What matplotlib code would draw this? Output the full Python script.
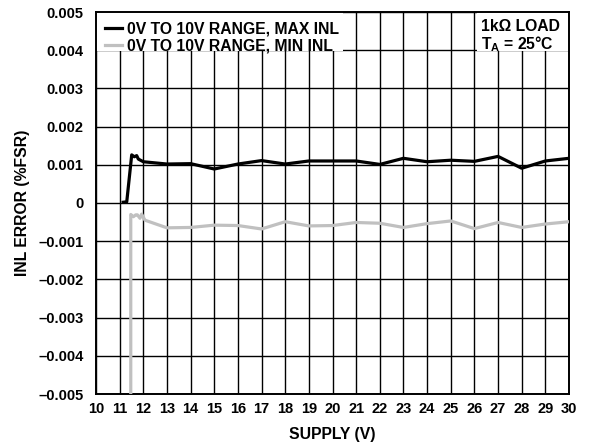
import matplotlib
matplotlib.use("Agg")
import matplotlib.pyplot as plt
from matplotlib.patches import Rectangle
from matplotlib.ticker import FixedLocator, FuncFormatter

plt.rcParams['font.family'] = ['Liberation Sans', 'DejaVu Sans']
plt.rcParams['font.weight'] = 'bold'
plt.rcParams['mathtext.fontset'] = 'custom'
plt.rcParams['mathtext.bf'] = 'Liberation Sans:bold'
plt.rcParams['mathtext.rm'] = 'Liberation Sans:bold'

# Data (supply voltage in V, INL error in %FSR)
max_v = [11.15, 11.30, 11.51, 11.62, 11.72, 11.79, 12.0, 13, 14, 15, 16, 17, 18, 19, 20, 21, 22, 23, 24, 25, 26, 27, 28, 29, 30]
max_inl = [0.00002, 0.00003, 0.00126, 0.00121, 0.00124, 0.00115, 0.00108, 0.00102, 0.00103, 0.00089, 0.00102, 0.00111,
           0.00102, 0.00110, 0.00110, 0.00110, 0.00101, 0.00117, 0.00108, 0.00112, 0.00109, 0.00122, 0.00091, 0.00110, 0.00117]

min_v = [11.47, 11.47, 11.58, 11.68, 11.75, 11.86, 11.93, 12.07, 13, 14, 15, 16, 17, 18, 19, 20, 21, 22, 23, 24, 25, 26, 27, 28, 29, 30]
min_inl = [-0.0055, -0.00030, -0.00036, -0.00031, -0.00031, -0.00040, -0.00029, -0.00045, -0.00065, -0.00064, -0.00058,
           -0.00059, -0.00068, -0.00049, -0.00060, -0.00059, -0.00051, -0.00053, -0.00064, -0.00054, -0.00047, -0.00067,
           -0.00051, -0.00064, -0.00055, -0.00049]

x_ticks = list(range(10, 31))
y_ticks = [-0.005, -0.004, -0.003, -0.002, -0.001, 0, 0.001, 0.002, 0.003, 0.004, 0.005]

FS = 10.5
FL = 11.3

fig = plt.figure(figsize=(5.9, 4.46), dpi=100)
ax = fig.add_axes([96/590, 52/446, 473/590, 382/446])

ax.plot(max_v, max_inl, color='black', lw=2.3, zorder=3, label='0V TO 10V RANGE, MAX INL')
ax.plot(min_v, min_inl, color='#c0c0c0', lw=2.3, zorder=3, label='0V TO 10V RANGE, MIN INL')

ax.set_xlim(10, 30)
ax.set_ylim(-0.005, 0.005)
ax.xaxis.set_major_locator(FixedLocator(x_ticks))
ax.yaxis.set_major_locator(FixedLocator(y_ticks))

def yfmt(v, pos):
    if abs(v) < 1e-12:
        return '0'
    s = f'{abs(v):.3f}'
    return ('\u2013' + s) if v < 0 else s

ax.yaxis.set_major_formatter(FuncFormatter(yfmt))
ax.tick_params(axis='y', length=0, labelsize=FS, pad=9)
ax.tick_params(axis='x', length=0, labelsize=FS, pad=6)
for lab in ax.get_xticklabels() + ax.get_yticklabels():
    lab.set_fontweight('bold')

ax.set_axisbelow(True)
ax.grid(True, color='black', lw=1.0)
for sp in ax.spines.values():
    sp.set_linewidth(1.4)

# White boxes behind legend and condition text
ax.add_patch(Rectangle((10, 0.00398), 10.46, 0.00102, facecolor='white', edgecolor='none', zorder=1))
ax.add_patch(Rectangle((26.09, 0.00398), 3.91, 0.00102, facecolor='white', edgecolor='none', zorder=1))

leg = ax.legend(loc='upper left', frameon=False, handlelength=1.05, handletextpad=0.3,
                labelspacing=0.12, borderaxespad=0.35, borderpad=0.25, prop={'weight': 'bold', 'size': FL})

ax.text(0.814, 0.982, '1k\u03a9 LOAD\n$\\mathbf{T_A}$ = 25\u00b0C', transform=ax.transAxes, ha='left', va='top',
        fontsize=FL, fontweight='bold', linespacing=1.0)

ax.set_xlabel('SUPPLY (V)', fontsize=FL, fontweight='bold', labelpad=8)
ax.set_ylabel('INL ERROR (%FSR)', fontsize=FL, fontweight='bold', labelpad=6)

fig.savefig('out.png', dpi=100)
